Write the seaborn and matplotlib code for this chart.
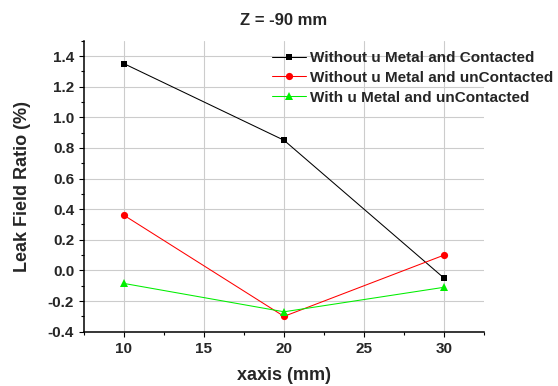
import matplotlib
matplotlib.use("Agg")
import matplotlib.pyplot as plt
from matplotlib.ticker import MultipleLocator
import seaborn as sns
import pandas as pd

xaxis = [10, 20, 30]
s1_name = "Without u Metal and Contacted"
s2_name = "Without u Metal and unContacted"
s3_name = "With u Metal and unContacted"
s1 = [1.35, 0.85, -0.05]
s2 = [0.36, -0.30, 0.10]
s3 = [-0.085, -0.27, -0.11]
xticks = [10, 15, 20, 25, 30]
yticks = [-0.4, -0.2, 0.0, 0.2, 0.4, 0.6, 0.8, 1.0, 1.2, 1.4]

df = pd.DataFrame({
    "x": xaxis * 3,
    "y": s1 + s2 + s3,
    "series": [s1_name] * 3 + [s2_name] * 3 + [s3_name] * 3,
})

sns.set_style("white")
plt.rcParams['font.family'] = ['Liberation Sans', 'DejaVu Sans']
plt.rcParams['font.weight'] = 'bold'

fig = plt.figure(figsize=(5.58, 3.86), dpi=100)
ax = fig.add_axes([84 / 558, 1 - 331.7 / 386, 400 / 558, 291 / 386])

palette = {s1_name: "#000000", s2_name: "#ff0000", s3_name: "#00ee00"}
markers = {s1_name: "s", s2_name: "o", s3_name: "^"}
sns.lineplot(data=df, x="x", y="y", hue="series", style="series",
             palette=palette, markers=markers, dashes=False,
             linewidth=0.75, ax=ax)

msizes = {"s": 4.5, "o": 5.2, "^": 5.8}
def fix(line):
    m = line.get_marker()
    if m in msizes:
        line.set_markersize(msizes[m])
        line.set_markeredgewidth(0)
    line.set_linewidth(0.75)

for ln in ax.lines:
    fix(ln)

ax.set_xlim(7.5, 32.5)
ax.set_ylim(-0.4, 1.5)
ax.set_xticks(xticks)
ax.set_yticks(yticks)
ax.set_yticklabels([f"{v:.1f}" for v in yticks])
ax.xaxis.set_minor_locator(MultipleLocator(2.5))
ax.yaxis.set_minor_locator(MultipleLocator(0.1))
ax.grid(True, which="major", color="#cccccc", linewidth=0.8)
ax.set_axisbelow(True)
for side in ["top", "right"]:
    ax.spines[side].set_visible(False)
for side in ["left", "bottom"]:
    ax.spines[side].set_color("black")
    ax.spines[side].set_linewidth(1.1)
ax.tick_params(axis="both", which="major", direction="out", length=3.6, width=0.8,
               color="black", labelsize=11, left=True, bottom=True, pad=3.5)
ax.tick_params(axis="both", which="minor", direction="out", length=2.2, width=0.8,
               color="black", left=True, bottom=True)
for lab in ax.get_xticklabels() + ax.get_yticklabels():
    lab.set_fontweight("bold")

ax.set_xlabel("xaxis (mm)", fontsize=13, fontweight="bold", labelpad=8.5)
ax.set_ylabel("Leak Field Ratio (%)", fontsize=13, fontweight="bold", labelpad=12)
ax.set_title("Z = -90 mm", fontsize=12, fontweight="bold", pad=11)

handles, labels = ax.get_legend_handles_labels()
leg = fig.legend(handles, labels, loc="upper left",
                 bbox_to_anchor=(272 / 558, 1 - 51 / 386),
                 frameon=False, handlelength=2.2, handletextpad=0.3,
                 labelspacing=0.38, borderpad=0, borderaxespad=0,
                 prop={"weight": "bold", "size": 11})
for h in leg.legend_handles:
    fix(h)
if ax.get_legend() is not None:
    ax.get_legend().remove()

fig.savefig("out.png", dpi=100)
